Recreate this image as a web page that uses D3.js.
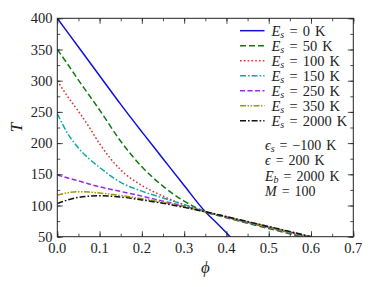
<!DOCTYPE html>
<html>
<head>
<meta charset="utf-8">
<script src="https://cdn.jsdelivr.net/npm/d3@7"></script>
<style>
  body { margin: 0; background: #fff; }
  svg text { font-family: "Liberation Serif", "DejaVu Serif", serif; fill: #222; }
</style>
</head>
<body>
<div class="viz"></div>
<script>
// values
const esLabels = ["0", "50", "100", "150", "250", "350", "2000"];
const colors = ["#1010e0", "#107a10", "#dd3030", "#10a8a8", "#9a28e8", "#9a9a10", "#111111"];
const dashes = [null, "6,3", "1.6,2.2", "6,2,1.6,2", "5,2.5", "6,1.5,1.5,1.5,1.5,1.5", "6,2,1.6,2"];

const phiBlue = [0, 0.05, 0.1, 0.15, 0.2, 0.25, 0.3, 0.35, 0.38, 0.409];
const tBlue   = [400, 354, 308, 262, 218, 175, 132, 90, 70, 50];

// shared grid for the other curves, each one ends at T = 50
const phiGrid = [0, 0.025, 0.05, 0.075, 0.1, 0.15, 0.2, 0.25, 0.3, 0.35, 0.4, 0.45, 0.5, 0.55];
const phiEnd  = [0.575, 0.585, 0.59, 0.595, 0.6, 0.6];
const tEs50   = [350, 326, 301, 277, 253, 203, 162, 131, 107, 90, 80.5, 71.5, 63, 54.5];
const tEs100  = [300, 274, 251, 226, 199, 157, 132, 115, 101, 90, 81, 72.5, 64, 56];
const tEs150  = [247, 215, 192, 175, 161, 137, 123, 112, 101.5, 90, 81.5, 73, 65, 57];
const tEs250  = [149, 144, 139.5, 134.5, 130, 122.5, 115, 107, 99, 90, 81.5, 73.5, 65.5, 57.5];
const tEs350  = [116.5, 120.5, 122, 121.5, 120, 116, 111, 105, 98, 90, 82, 74, 66, 58];
const tEs2000 = [103, 109, 113, 115, 115.5, 113.5, 109, 103.5, 97, 90, 82.2, 74.2, 66.2, 58.2];

const xTicks = [0, 0.1, 0.2, 0.3, 0.4, 0.5, 0.6, 0.7];
const yTicks = [50, 100, 150, 200, 250, 300, 350, 400];
const notes = [["ϵ", "s", " = −100 K"], ["ϵ", "", " = 200 K"], ["E", "b", " = 2000 K"], ["M", "", " = 100"]];

const W = 374, H = 287;
const pLeft = 57.3, pRight = 353.3, pTop = 18.3, pBottom = 236.7;

const svg = d3.select(".viz").append("svg")
    .attr("width", W).attr("height", H);

const x = d3.scaleLinear().domain([0, 0.7]).range([pLeft, pRight]);
const y = d3.scaleLinear().domain([50, 400]).range([pBottom, pTop]);

// build series
const series = [phiBlue.map((p, i) => [p, tBlue[i]])];
[tEs50, tEs100, tEs150, tEs250, tEs350, tEs2000].forEach((ts, k) => {
    const pts = phiGrid.map((p, i) => [p, ts[i]]);
    pts.push([phiEnd[k], 50]);
    series.push(pts);
});

const line = d3.line()
    .x(d => x(d[0]))
    .y(d => y(d[1]))
    .curve(d3.curveMonotoneX);

svg.append("clipPath").attr("id", "clip")
    .append("rect").attr("x", pLeft).attr("y", pTop)
    .attr("width", pRight - pLeft).attr("height", pBottom - pTop);

const g = svg.append("g").attr("clip-path", "url(#clip)");
series.forEach((s, i) => {
    g.append("path")
        .datum(s)
        .attr("d", line)
        .attr("fill", "none")
        .attr("stroke", colors[i])
        .attr("stroke-width", 1.5)
        .attr("stroke-dasharray", dashes[i]);
});

// axes: ticks inward on all four sides
const majLen = 5.5, minLen = 3;
const xMinor = d3.range(0, 0.7001, 0.05);
const yMinor = d3.range(50, 400.1, 25);

function tickAxis(axisFn, scale, ticks, minor, transform) {
    const a = axisFn(scale).tickValues(minor).tickSizeInner(minLen).tickSizeOuter(0).tickFormat("");
    const b = axisFn(scale).tickValues(ticks).tickSizeInner(majLen).tickSizeOuter(0).tickFormat("");
    [a, b].forEach(ax => {
        const gg = svg.append("g").attr("transform", transform).call(ax);
        gg.select(".domain").remove();
        gg.selectAll("line").attr("stroke", "#222").attr("stroke-width", 0.8);
    });
}
// inward ticks: bottom edge points up, top edge points down, etc.
tickAxis(d3.axisTop, x, xTicks, xMinor, `translate(0,${pBottom})`);
tickAxis(d3.axisBottom, x, xTicks, xMinor, `translate(0,${pTop})`);
tickAxis(d3.axisRight, y, yTicks, yMinor, `translate(${pLeft},0)`);
tickAxis(d3.axisLeft, y, yTicks, yMinor, `translate(${pRight},0)`);

svg.append("rect")
    .attr("x", pLeft).attr("y", pTop)
    .attr("width", pRight - pLeft).attr("height", pBottom - pTop)
    .attr("fill", "none").attr("stroke", "#222").attr("stroke-width", 1);

// tick labels
svg.append("g").selectAll("text").data(xTicks).join("text")
    .attr("x", d => x(d)).attr("y", 253)
    .attr("text-anchor", "middle")
    .attr("font-size", 14.5)
    .text(d => d.toFixed(1));

svg.append("g").selectAll("text").data(yTicks).join("text")
    .attr("x", 52.5).attr("y", d => y(d) + 5)
    .attr("text-anchor", "end")
    .attr("font-size", 14.5)
    .text(d => d);

// axis titles
svg.append("text")
    .attr("transform", `translate(22,${(pTop + pBottom) / 2}) rotate(-90)`)
    .attr("text-anchor", "middle")
    .attr("font-size", 17).attr("font-style", "italic")
    .text("T");
svg.append("text")
    .attr("x", (pLeft + pRight) / 2).attr("y", 273)
    .attr("text-anchor", "middle")
    .attr("font-size", 17).attr("font-style", "italic")
    .text("ϕ");

// legend
const leg = svg.append("g");
esLabels.forEach((lab, i) => {
    const cy = 30.7 + i * 15;
    leg.append("line")
        .attr("x1", 240).attr("x2", 264.5).attr("y1", cy).attr("y2", cy)
        .attr("stroke", colors[i]).attr("stroke-width", 1.5)
        .attr("stroke-dasharray", dashes[i]);
    const t = leg.append("text").attr("x", 271.5).attr("y", cy + 5)
        .attr("font-size", 14.5).attr("word-spacing", 1.5);
    t.append("tspan").attr("font-style", "italic").text("E");
    t.append("tspan").attr("font-style", "italic").attr("font-size", 10).attr("dy", 2.5).text("s");
    t.append("tspan").attr("dy", -2.5).text(` = ${lab} K`);
});

// parameter notes
notes.forEach((n, i) => {
    const t = svg.append("text").attr("x", 265).attr("y", 150 + i * 15.4)
        .attr("font-size", 14).attr("word-spacing", 1.5);
    t.append("tspan").attr("font-style", "italic").text(n[0]);
    if (n[1]) {
        t.append("tspan").attr("font-style", "italic").attr("font-size", 10).attr("dy", 2).text(n[1]);
        t.append("tspan").attr("dy", -2).text(n[2]);
    } else {
        t.append("tspan").text(n[2]);
    }
});
</script>
</body>
</html>
